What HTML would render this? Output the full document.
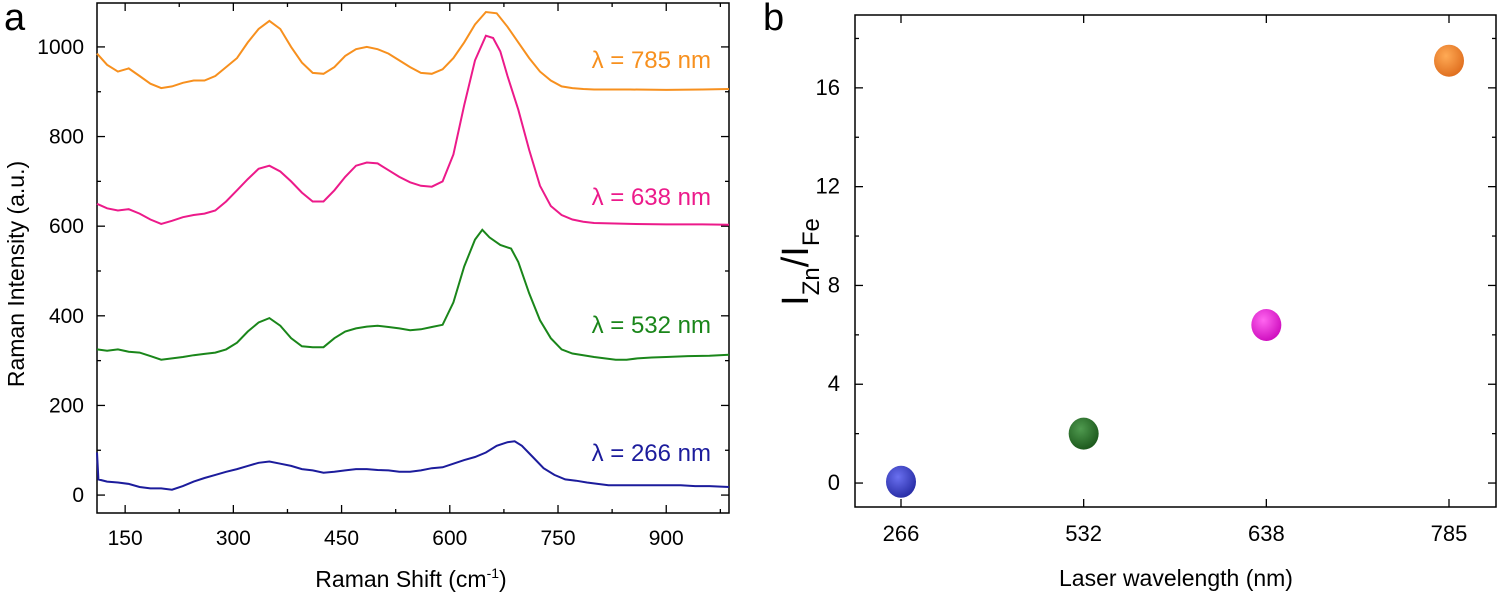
<!DOCTYPE html>
<html><head><meta charset="utf-8"><style>
body{margin:0;background:#fff;width:1499px;height:596px;overflow:hidden}
svg{font-family:"Liberation Sans",sans-serif}
</style></head><body>
<svg id="c" width="1499" height="596"></svg>
<script>
const xsO=[111,125,140,155,170,185,200,215,230,245,260,275,290,305,320,335,350,365,380,395,410,425,440,455,470,485,500,515,530,545,560,575,590,605,620,635,650,665,680,695,710,725,740,755,770,785,800,850,900,950,987];
const ysO=[985,960,945,952,935,918,908,912,920,925,925,935,955,975,1010,1040,1058,1040,1000,965,942,940,955,980,995,1000,995,985,970,955,942,940,950,975,1010,1050,1078,1075,1045,1010,975,945,925,912,908,906,905,905,904,905,906];
const xsP=[111,125,140,155,170,185,200,215,230,245,260,275,290,305,320,335,350,365,380,395,410,425,440,455,470,485,500,515,530,545,560,575,590,605,620,635,650,660,670,680,695,710,725,740,755,770,785,800,850,900,950,987];
const ysP=[650,640,635,638,628,615,605,612,620,625,628,635,655,680,705,728,735,722,700,675,655,655,680,710,735,742,740,725,710,698,690,688,700,760,870,970,1025,1020,990,935,860,770,690,645,625,615,610,607,605,604,604,603];
const xsG=[111,125,140,155,170,185,200,215,230,245,260,275,290,305,320,335,350,365,380,395,410,425,440,455,470,485,500,515,530,545,560,575,590,605,620,635,645,655,670,685,695,710,725,740,755,770,785,800,815,830,845,860,880,900,930,960,987];
const ysG=[325,322,325,320,318,310,302,305,308,312,315,318,325,340,365,385,395,378,350,332,330,330,350,365,372,376,378,375,372,368,370,375,380,430,510,570,592,575,558,550,520,450,390,350,325,316,312,308,305,302,302,305,307,308,310,311,313];
const xsB=[111,113,125,140,155,170,185,200,215,230,245,260,275,290,305,320,335,350,365,380,395,410,425,440,455,470,485,500,515,530,545,560,575,590,605,620,635,650,665,680,690,700,715,730,745,760,775,790,805,820,840,860,880,900,920,940,960,987];
const ysB=[95,35,30,28,25,18,15,15,12,20,30,38,45,52,58,65,72,75,70,65,58,55,50,52,55,58,58,56,55,52,52,55,60,62,70,78,85,95,110,118,120,110,85,60,45,35,32,28,25,22,22,22,22,22,22,20,20,18];
const xTicksA=[150,300,450,600,750,900];
const yTicksA=[0,200,400,600,800,1000];
const cats=["266","532","638","785"];
const ratios=[0.05,2.0,6.4,17.1];
const yTicksB=[0,4,8,12,16];

const S=document.getElementById('c');const NS='http://www.w3.org/2000/svg';
function mk(t,a,txt){const e=document.createElementNS(NS,t);for(const k in a)e.setAttribute(k,a[k]);if(txt!==undefined)e.textContent=txt;S.appendChild(e);return e;}
// panel a
const L=97,R=729,T=3,B=513,x0=111,x1=987,y0=-40,y1=1098;
const X=v=>L+(v-x0)/(x1-x0)*(R-L);
const Y=v=>B-(v-y0)/(y1-y0)*(B-T);
let e=mk('rect',{x:L,y:T,width:R-L,height:B-T,fill:'none',stroke:'#000','stroke-width':1.5});

for(let v=150;v<=975;v+=75){const maj=xTicksA.includes(v);const l=maj?8:4;
 mk('line',{x1:X(v),x2:X(v),y1:B,y2:B-l,stroke:'#000','stroke-width':1.3});mk('line',{x1:X(v),x2:X(v),y1:T,y2:T+l,stroke:'#000','stroke-width':1.3});}
xTicksA.forEach(v=>{e=mk('text',{x:X(v),y:545,'font-size':21,'text-anchor':'middle'},v);});
for(let v=0;v<=1000;v+=100){const maj=yTicksA.includes(v);const l=maj?8:4;
 mk('line',{x1:L,x2:L+l,y1:Y(v),y2:Y(v),stroke:'#000','stroke-width':1.3});mk('line',{x1:R,x2:R-l,y1:Y(v),y2:Y(v),stroke:'#000','stroke-width':1.3});}
yTicksA.forEach(v=>{e=mk('text',{x:84,y:Y(v)+7,'font-size':21,'text-anchor':'end'},v);});
const series=[[xsO,ysO,'#f7901e','785',68,'series-785nm'],[xsP,ysP,'#ec1a8a','638',205,'series-638nm'],[xsG,ysG,'#1a861a','532',333,'series-532nm'],[xsB,ysB,'#1c1c9c','266',461,'series-266nm']];
series.forEach(s=>{const d=s[0].map((x,i)=>(i?'L':'M')+X(x).toFixed(1)+','+Y(s[1][i]).toFixed(1)).join('');
 e=mk('path',{d:d,fill:'none',stroke:s[2],'stroke-width':2});
 e=mk('text',{x:711,y:s[4],'font-size':24,'text-anchor':'end',fill:s[2]},'λ = '+s[3]+' nm');});
e=mk('text',{x:411,y:587,'font-size':23,'text-anchor':'middle'});e.innerHTML='Raman Shift (cm<tspan dy="-9" font-size="14">-1</tspan><tspan dy="9">)</tspan>';
e=mk('text',{x:0,y:0,'font-size':23,'text-anchor':'middle',transform:'translate(24,274) rotate(-90)'},'Raman Intensity (a.u.)');
e=mk('text',{x:4,y:30,'font-size':38},'a');
// panel b
const L2=855,R2=1496,T2=15,B2=507,yb0=-0.97,yb1=18.95;
const XB=i=>901+i*((1449-901)/3);
const YB=v=>B2-(v-yb0)/(yb1-yb0)*(B2-T2);
e=mk('rect',{x:L2,y:T2,width:R2-L2,height:B2-T2,fill:'none',stroke:'#000','stroke-width':1.5});

cats.forEach((c,i)=>{mk('line',{x1:XB(i),x2:XB(i),y1:B2,y2:B2-8,stroke:'#000','stroke-width':1.3});mk('line',{x1:XB(i),x2:XB(i),y1:T2,y2:T2+8,stroke:'#000','stroke-width':1.3});
 e=mk('text',{x:XB(i),y:541,'font-size':22,'text-anchor':'middle'},c);});
for(let v=0;v<=18;v+=2){const maj=yTicksB.includes(v);const l=maj?8:4;
 mk('line',{x1:L2,x2:L2+l,y1:YB(v),y2:YB(v),stroke:'#000','stroke-width':1.3});mk('line',{x1:R2,x2:R2-l,y1:YB(v),y2:YB(v),stroke:'#000','stroke-width':1.3});}
yTicksB.forEach(v=>{e=mk('text',{x:840,y:YB(v)+7,'font-size':22,'text-anchor':'end'},v);});
const defs=mk('defs',{});
const cols=[['#6a70f0','#2a2fa8'],['#4f9a4f','#1d5a1d'],['#ff66f0','#d010c0'],['#ffaa55','#e07020']];
cols.forEach((c,i)=>{const g=document.createElementNS(NS,'radialGradient');g.setAttribute('id','g'+i);g.setAttribute('cx','0.4');g.setAttribute('cy','0.35');g.setAttribute('r','0.65');
 g.innerHTML='<stop offset="0" stop-color="'+c[0]+'"/><stop offset="1" stop-color="'+c[1]+'"/>';defs.appendChild(g);});
ratios.forEach((v,i)=>{e=mk('ellipse',{cx:XB(i),cy:YB(v),rx:15,ry:16,fill:'url(#g'+i+')'});});
e=mk('text',{x:1176,y:586,'font-size':23,'text-anchor':'middle'},'Laser wavelength (nm)');
e=mk('text',{x:0,y:0,'font-size':38,'text-anchor':'middle',transform:'translate(808,262) rotate(-90)'});e.innerHTML='I<tspan dy="11" font-size="24">Zn</tspan><tspan dy="-11">/I</tspan><tspan dy="11" font-size="24">Fe</tspan>';
e=mk('text',{x:763,y:30,'font-size':38},'b');
</script>
</body></html>
